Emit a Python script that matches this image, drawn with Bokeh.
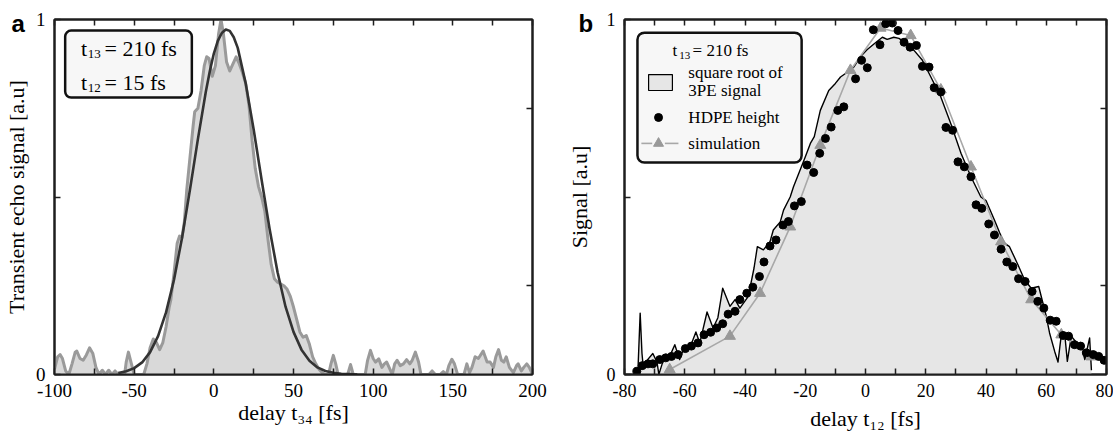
from bokeh.plotting import figure
from bokeh.layouts import row
from bokeh.models import (Range1d, FixedTicker, LinearAxis, BoxAnnotation, Label,
                          CustomLabelingPolicy)
from bokeh.embed import file_html
from bokeh.resources import INLINE

# ---------------- panel a data ----------------
a_noise_x = [-100, -98, -96.5, -95, -93, -91, -89, -87, -86, -84, -82, -80, -78, -76, -74, -72,
             -70, -68, -66, -64, -62, -60, -56, -55, -53.6, -52, -50, -44, -42, -40, -38, -36,
             -34, -32, -30, -28, -27, -25, -23, -21.5, -20, -18.5, -17, -15, -13, -12, -10, -8,
             -6, -4.5, -3, -1, 1, 3, 4.5, 6, 8, 10, 12, 14, 16, 18, 20, 22, 24, 26, 28, 30, 32,
             34, 36, 38, 40, 42, 44, 46, 48, 50, 52, 54, 56, 58, 60, 62, 64, 66, 68, 70, 72,
             73.5, 75, 76.5, 78, 84, 85.8, 87.5, 95, 96.5, 98.3, 100, 101.5, 103.5, 105.5, 107,
             108.5, 110.5, 112, 113.5, 115, 117, 119, 121, 123, 124.5, 126.5, 128.5, 130, 135,
             137, 139, 142, 144, 146, 147.5, 149.4, 151, 153, 157, 158.8, 160.5, 162, 164, 166,
             169, 171.5, 173.4, 175.5, 177, 178.7, 180.5, 182, 183.5, 185.5, 188, 190, 191, 193,
             194.5, 196.4, 198, 200]
a_noise_y = [0.015, 0.05, 0.056, 0.045, 0.01, 0.0, 0.03, 0.063, 0.066, 0.045, 0.04, 0.055, 0.075,
             0.06, 0.02, 0.0, 0.012, 0.0, 0.012, 0.0, 0.01, 0.0, 0.0, 0.035, 0.063, 0.035, 0.0,
             0.0, 0.03, 0.075, 0.10, 0.09, 0.07, 0.09, 0.134, 0.19, 0.21, 0.285, 0.37, 0.39,
             0.385, 0.43, 0.52, 0.61, 0.70, 0.74, 0.75, 0.80, 0.87, 0.895, 0.89, 0.84, 0.87,
             0.96, 1.0, 0.96, 0.88, 0.855, 0.875, 0.895, 0.875, 0.85, 0.82, 0.76, 0.66, 0.58,
             0.53, 0.50, 0.46, 0.38, 0.31, 0.27, 0.26, 0.255, 0.25, 0.24, 0.22, 0.19, 0.155,
             0.12, 0.105, 0.11, 0.085, 0.05, 0.03, 0.015, 0.005, 0.0, 0.0, 0.03, 0.054, 0.03,
             0.0, 0.0, 0.028, 0.0, 0.0, 0.04, 0.068, 0.045, 0.035, 0.044, 0.02, 0.03, 0.035,
             0.015, 0.0, 0.03, 0.04, 0.025, 0.03, 0.042, 0.03, 0.04, 0.063, 0.035, 0.0, 0.0,
             0.01, 0.0, 0.0, 0.008, 0.0, 0.025, 0.043, 0.03, 0.0, 0.0, 0.03, 0.005, 0.02, 0.05,
             0.045, 0.066, 0.035, 0.035, 0.02, 0.05, 0.07, 0.04, 0.035, 0.05, 0.02, 0.005, 0.025,
             0.03, 0.01, 0.02, 0.03, 0.02, 0.0]

a_fit_x = [-60, -55, -50, -45, -40, -35, -30, -25, -20, -15, -10, -5, -2.5, 0, 2.5, 5, 7.5, 10,
           12.5, 15, 20, 25, 30, 35, 40, 45, 50, 55, 60, 65, 70, 75, 80, 85, 90]
a_fit_y = [0.004, 0.009, 0.018, 0.034, 0.063, 0.108, 0.175, 0.267, 0.384, 0.52, 0.663, 0.797,
           0.855, 0.904, 0.940, 0.962, 0.972, 0.968, 0.950, 0.920, 0.82, 0.69, 0.548, 0.41,
           0.288, 0.191, 0.12, 0.070, 0.039, 0.020, 0.010, 0.005, 0.002, 0.001, 0.0]

a_xticks = [-100, -50, 0, 50, 100, 150, 200]
a_xminor = [-75, -25, 25, 75, 125, 175]

# ---------------- panel b data ----------------
b_signal_x = [-76.7, -75.5, -74.8, -74.2, -73.9, -72.8, -70.6, -69.2, -68.6, -67.5, -66.7, -65,
              -63.3, -61.7, -60, -58.3, -56.3, -55, -52.6, -50.6, -49, -47.4, -45, -43.3, -41.7,
              -38.9, -37, -35.9, -33.9, -31.7, -30.6, -28.3, -27.2, -25, -23.9, -22, -20, -18.3,
              -17, -15, -12.2, -10, -8.3, -5.5, -3.9, -1.7, 0.5, 2.8, 5.6, 7.2, 9.4, 11.1, 13.9,
              16.1, 18.9, 21.7, 25, 28.3, 31.7, 35, 38.3, 40, 42.8, 44.5, 46.1, 47.8, 50.6, 52.8,
              55, 57.5, 60, 61.1, 62.8, 63.9, 64.8, 66.1, 67, 68.3, 70, 71.7, 72.8, 74.4, 75]
b_signal_y = [0.0, 0.02, 0.173, 0.06, 0.033, 0.037, 0.059, 0.035, 0.0, 0.03, 0.045, 0.051, 0.084,
              0.042, 0.08, 0.075, 0.12, 0.089, 0.176, 0.131, 0.16, 0.243, 0.192, 0.211, 0.187,
              0.22, 0.30, 0.36, 0.351, 0.374, 0.407, 0.43, 0.463, 0.50, 0.529, 0.57, 0.613,
              0.651, 0.67, 0.744, 0.80, 0.82, 0.838, 0.855, 0.866, 0.895, 0.915, 0.931, 0.95,
              0.944, 0.95, 0.947, 0.931, 0.913, 0.885, 0.838, 0.782, 0.707, 0.623, 0.557, 0.50,
              0.49, 0.435, 0.40, 0.37, 0.36, 0.309, 0.267, 0.243, 0.248, 0.164, 0.117, 0.065,
              0.035, 0.098, 0.117, 0.037, 0.108, 0.09, 0.08, 0.042, 0.103, 0.012]

b_hdpe_x = [-75.9, -74.1, -72.2, -70.6, -68.3, -66.3, -64.4, -62.2, -59.8, -57.8, -55.6, -53.6,
            -51.4, -49.4, -47.4, -45.6, -43.3, -41.7, -39.4, -37.4, -35.2, -33.7, -31.7, -29.7,
            -27.4, -25.6, -23.6, -21.3, -19.4, -17.2, -15.2, -13.3, -11.4, -9.2, -7.2, -3.3,
            -1.3, 0.6, 2.6, 4.8, 6.7, 8.9, 10.8, 12.8, 14.8, 16.9, 18.9, 21.1, 22.8, 25, 26.7,
            28.9, 30.7, 32.8, 35, 36.7, 38.6, 40.9, 42.8, 45, 46.9, 48.9, 50.8, 53, 55.3, 57.2,
            59.2, 61.3, 63.3, 65.6, 67.4, 69.4, 71.4, 73.3, 75.6, 77.4, 79.2]
b_hdpe_y = [0.009, 0.025, 0.03, 0.03, 0.042, 0.047, 0.051, 0.056, 0.073, 0.08, 0.089, 0.112,
            0.119, 0.131, 0.143, 0.17, 0.178, 0.211, 0.229, 0.246, 0.276, 0.317, 0.362, 0.379,
            0.421, 0.431, 0.475, 0.487, 0.59, 0.569, 0.623, 0.665, 0.697, 0.744, 0.754, 0.833,
            0.885, 0.864, 0.971, 0.929, 0.988, 0.99, 0.969, 0.936, 0.922, 0.927, 0.868, 0.866,
            0.808, 0.796, 0.696, 0.688, 0.599, 0.585, 0.557, 0.478, 0.468, 0.424, 0.393, 0.353,
            0.317, 0.304, 0.27, 0.262, 0.234, 0.206, 0.187, 0.153, 0.15, 0.11, 0.108, 0.084,
            0.08, 0.061, 0.056, 0.051, 0.04]

b_sim_x = [-65, -45, -35, -25, -15, -5, 5, 15, 25, 35, 45, 55, 65, 75]
b_sim_y = [0.014, 0.108, 0.229, 0.416, 0.646, 0.857, 0.976, 0.955, 0.802, 0.585, 0.374, 0.211,
           0.112, 0.05]

b_xticks = [-80, -60, -40, -20, 0, 20, 40, 60, 80]
b_xminor = [-70, -50, -30, -10, 10, 30, 50, 70]

SERIF = "Liberation Serif"
SANS = "Liberation Sans"
FRAME = "#1e1e1e"

NO_LABELS = "for (const i of indices) { indices.unset(i) }\nreturn indices"


def style_axis(ax, labels=True, size="19px"):
    ax.axis_line_color = FRAME
    ax.axis_line_width = 2
    ax.major_tick_in = 6
    ax.major_tick_out = 0
    ax.minor_tick_in = 6
    ax.minor_tick_out = 0
    ax.major_tick_line_color = FRAME
    ax.minor_tick_line_color = FRAME
    ax.major_tick_line_width = 1.5
    ax.minor_tick_line_width = 1.5
    ax.major_label_text_font = SERIF
    ax.major_label_text_color = "black"
    ax.axis_label_text_font = SERIF
    ax.axis_label_text_font_style = "normal"
    ax.axis_label_text_color = "black"
    ax.axis_label_text_font_size = "22px"
    if labels:
        ax.major_label_text_font_size = size
        ax.major_label_standoff = 9
    else:
        ax.major_label_text_font_size = "1px"
        ax.major_label_standoff = 0
        ax.major_label_policy = CustomLabelingPolicy(code=NO_LABELS)


def make_fig(width, left, right, xr, xt, xm, tsize, xlabel, ylabel, xstand, ystand,
             letter, letter_offset):
    p = figure(width=width, height=433, x_range=Range1d(*xr), y_range=Range1d(0, 1),
               output_backend="svg", toolbar_location=None,
               min_border_left=left, min_border_right=right,
               min_border_top=19, min_border_bottom=59, title="\n" + letter)
    p.title.align = "left"
    p.title.vertical_align = "bottom"
    p.title.offset = letter_offset
    p.title.standoff = -42
    p.title.text_font = SANS
    p.title.text_font_size = "24px"
    p.title.text_font_style = "bold"
    p.title.text_color = "black"
    p.xgrid.visible = False
    p.ygrid.visible = False
    p.outline_line_color = FRAME
    p.outline_line_width = 2
    p.background_fill_color = "white"
    p.border_fill_color = "white"
    p.xaxis.ticker = FixedTicker(ticks=xt, minor_ticks=xm)
    p.xaxis.major_label_overrides = {t: str(t) for t in xt}
    p.yaxis.ticker = FixedTicker(ticks=[0, 1], minor_ticks=[0.5])
    p.xaxis.axis_label = xlabel
    p.yaxis.axis_label = ylabel
    for ax in p.xaxis:
        style_axis(ax, True, tsize)
        ax.axis_label_standoff = xstand
    for ax in p.yaxis:
        style_axis(ax, True, tsize)
        ax.axis_label_standoff = ystand
    top = LinearAxis(ticker=FixedTicker(ticks=xt, minor_ticks=xm))
    style_axis(top, labels=False)
    p.add_layout(top, "above")
    rgt = LinearAxis(ticker=FixedTicker(ticks=[0.25, 0.75], minor_ticks=[]))
    style_axis(rgt, labels=False)
    p.add_layout(rgt, "right")
    return p


def lab(p, x, y, text, size, font=SERIF, style="normal", baseline="middle", align="left"):
    p.add_layout(Label(x=x, y=y, text=text, text_font=font, text_font_size=size,
                       text_font_style=style, text_baseline=baseline, text_align=align,
                       text_color="black", level="overlay"))


# ---------------- panel a ----------------
pa = make_fig(560, 53, 28, (-100, 200), a_xticks, a_xminor, "19px",
              "delay t₃₄ [fs]", "Transient echo signal [a.u]", 0, 4, "a", -43)
pa.varea(x=a_noise_x, y1=0, y2=a_noise_y, fill_color="#d9d9d9")
pa.line(a_noise_x, a_noise_y, line_color="#9a9a9a", line_width=3, line_join="round")
pa.line(a_fit_x, a_fit_y, line_color="#333333", line_width=2.6, line_join="round")

pa.add_layout(BoxAnnotation(left=-93.3, right=-13.8, bottom=0.780, top=0.969,
                            fill_color="#f7f7f7", fill_alpha=1, line_color="#111111",
                            line_alpha=1, line_width=2.5, border_radius=6))

lab(pa, -83.3, 0.918, "t", "22px")
lab(pa, -79.2, 0.902, "13", "13px")
lab(pa, -68.6, 0.918, "= 210 fs", "22px")
lab(pa, -83.3, 0.823, "t", "22px")
lab(pa, -79.2, 0.807, "12", "13px")
lab(pa, -68.6, 0.823, "= 15 fs", "22px")

# ---------------- panel b ----------------
pb = make_fig(553, 64, 7, (-80, 80), b_xticks, b_xminor, "18px",
              "delay t₁₂ [fs]", "Signal [a.u]", 6, 12, "b", -46)
pb.varea(x=b_signal_x, y1=0, y2=b_signal_y, fill_color="#e6e6e6")
pb.line(b_signal_x, b_signal_y, line_color="black", line_width=1.4, line_join="round")
pb.line(b_sim_x, b_sim_y, line_color="#a8a8a8", line_width=1.6)
pb.scatter(b_sim_x, b_sim_y, marker="triangle", size=11, fill_color="#999999",
           line_color="#999999")
pb.scatter(b_hdpe_x, b_hdpe_y, marker="circle", size=8, fill_color="black", line_color="black")

pb.add_layout(BoxAnnotation(left=-75.7, right=-21.2, bottom=0.597, top=0.963,
                            fill_color="#f7f7f7", fill_alpha=1, line_color="#111111",
                            line_alpha=1, line_width=2.5, border_radius=7))
pb.add_layout(BoxAnnotation(left=-72.0, right=-64.1, bottom=0.80, top=0.845,
                            fill_color="#e6e6e6", fill_alpha=1, line_color="black",
                            line_alpha=1, line_width=1.2, level="overlay"))
r1 = pb.scatter([-68.7], [0.724], marker="circle", size=8, fill_color="black",
                line_color="black")
r1.level = "overlay"
r2 = pb.line([-74.4, -70.8], [0.651, 0.651], line_color="#a8a8a8", line_width=1.6)
r2.level = "overlay"
r3 = pb.line([-66.6, -62.1], [0.651, 0.651], line_color="#a8a8a8", line_width=1.6)
r3.level = "overlay"
r4 = pb.scatter([-68.7], [0.651], marker="triangle", size=10, fill_color="#999999",
                line_color="#999999")
r4.level = "overlay"

lab(pb, -64.1, 0.913, "t", "17px")
lab(pb, -61.8, 0.899, "13", "11px")
lab(pb, -57.4, 0.913, "= 210 fs", "17px")
lab(pb, -58.8, 0.851, "square root of", "17px")
lab(pb, -58.8, 0.800, "3PE signal", "17px")
lab(pb, -58.8, 0.724, "HDPE height", "17px")
lab(pb, -58.8, 0.651, "simulation", "17px")

layout = row(pa, pb, spacing=0)
open("out.html", "w").write(file_html(layout, INLINE))
